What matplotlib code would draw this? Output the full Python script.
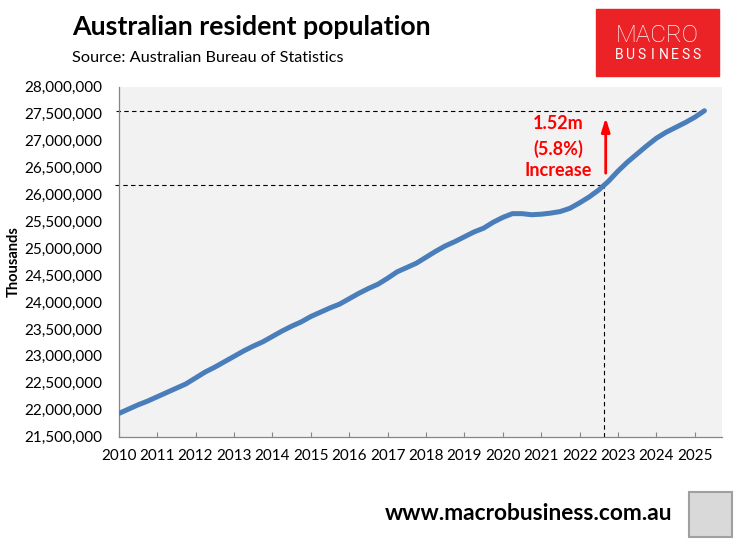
import numpy as np
import pandas as pd
import matplotlib
matplotlib.use("Agg")
import matplotlib.pyplot as plt
from matplotlib.patches import Rectangle

# Australian resident population, quarterly (millions)
pop = [21.93, 22.01, 22.09, 22.16, 22.24, 22.32, 22.40, 22.48,
       22.59, 22.70, 22.79, 22.89, 22.99, 23.09, 23.18, 23.26,
       23.36, 23.46, 23.55, 23.63, 23.73, 23.81, 23.89, 23.96,
       24.06, 24.16, 24.25, 24.33, 24.44, 24.56, 24.64, 24.72,
       24.83, 24.94, 25.04, 25.12, 25.21, 25.30, 25.37, 25.48,
       25.57, 25.64, 25.64, 25.62, 25.63, 25.65, 25.68, 25.74,
       25.84, 25.95, 26.08, 26.24, 26.43, 26.60, 26.75, 26.90,
       27.04, 27.15, 27.24, 27.33, 27.43, 27.55]
start_quarter = "2010Q1"
year_ticks = list(range(2010, 2026))
y_ticks = [21.5 + 0.5 * k for k in range(14)]

# annotation: change since the reference quarter
ref_year = 2022.63
annot_lines = ["1.52m", "(5.8%)", "Increase"]

quarters = pd.period_range(start_quarter, periods=len(pop), freq="Q")
x = np.array([q.year + (q.quarter - 1) / 4 for q in quarters])
pop = np.array(pop)
ref_val = np.interp(ref_year, x, pop)
last_val = pop[-1]

plt.rcParams["font.family"] = ["Lato", "DejaVu Sans"]

W, H = 737, 545
fig = plt.figure(figsize=(W / 100, H / 100), dpi=100)
ax = fig.add_axes([118.7 / W, 1 - 436.7 / H, (721.7 - 118.7) / W, (436.7 - 86.5) / H])
ax.set_facecolor("#F2F2F2")

ax.plot(x, pop, color="#4A7EBB", lw=3.6, solid_capstyle="round", zorder=3)

ax.set_xlim(2010, 2025.70)
ax.set_ylim(21.5, 28.0)
ax.set_xticks(year_ticks)
ax.set_xticklabels([str(y) for y in year_ticks])
ax.set_yticks(y_ticks)
ax.set_yticklabels([f"{v * 1e6:,.0f}" for v in y_ticks])
ax.tick_params(axis="x", direction="in", length=3.6, color="#868686", pad=9, labelsize=11)
ax.tick_params(axis="y", length=0, pad=12, labelsize=11)
for s in ["top", "right"]:
    ax.spines[s].set_visible(False)
for s in ["left", "bottom"]:
    ax.spines[s].set_color("#868686")
    ax.spines[s].set_linewidth(0.9)

# dashed guide lines
dash = dict(color="black", lw=0.8, ls=(0, (4, 3)), clip_on=False, zorder=2)
ax.plot([2009.93, x[-1]], [last_val, last_val], **dash)
ax.plot([2009.9, ref_year], [ref_val, ref_val], **dash)
ax.plot([ref_year, ref_year], [21.5, ref_val], **dash)

# red arrow + text
ax.annotate("", xy=(ref_year + 0.05, 27.47), xytext=(ref_year + 0.05, 26.34),
            arrowprops=dict(arrowstyle="-|>,head_width=0.25,head_length=0.8",
                            color="red", lw=2), zorder=4)
for txt, yv in zip(annot_lines, [27.32, 26.85, 26.45]):
    ax.text(2021.45, yv, txt, color="red", fontsize=13, fontweight="bold",
            ha="center", va="center")

fig.text(0.018, 1 - 261.6 / H, "Thousands", rotation=90, fontsize=10.5,
         fontweight="bold", ha="center", va="center")

# titles
fig.text(72 / W, 1 - 35 / H, "Australian resident population", fontsize=19.3,
         fontweight="bold", ha="left", va="baseline")
fig.text(72 / W, 1 - 61.7 / H, "Source: Australian Bureau of Statistics",
         fontsize=11.7, ha="left", va="baseline")

# logo
fig.patches.append(Rectangle((596 / W, 1 - 76 / H), 123 / W, 67 / H,
                             transform=fig.transFigure, color="#EB2226"))
fig.text(657.5 / W, 1 - 41.7 / H, "MACRO", color="white", fontsize=17.5,
         family="Roboto", fontweight="light", ha="center", va="baseline")
for k, ch in enumerate("BUSINESS"):
    fig.text((619 + k * 11.1) / W, 1 - 59.3 / H, ch, color="white", fontsize=10,
             family="Roboto", ha="center", va="baseline")

# footer
fig.text(672 / W, 1 - 520 / H, "www.macrobusiness.com.au", fontsize=16.4,
         fontweight="bold", ha="right", va="baseline")
fig.patches.append(Rectangle((689 / W, 1 - 537 / H), 43 / W, 45 / H,
                             transform=fig.transFigure, facecolor="#D9D9D9",
                             edgecolor="#A0A0A0", lw=1.5))

fig.savefig("out.png", dpi=100)
